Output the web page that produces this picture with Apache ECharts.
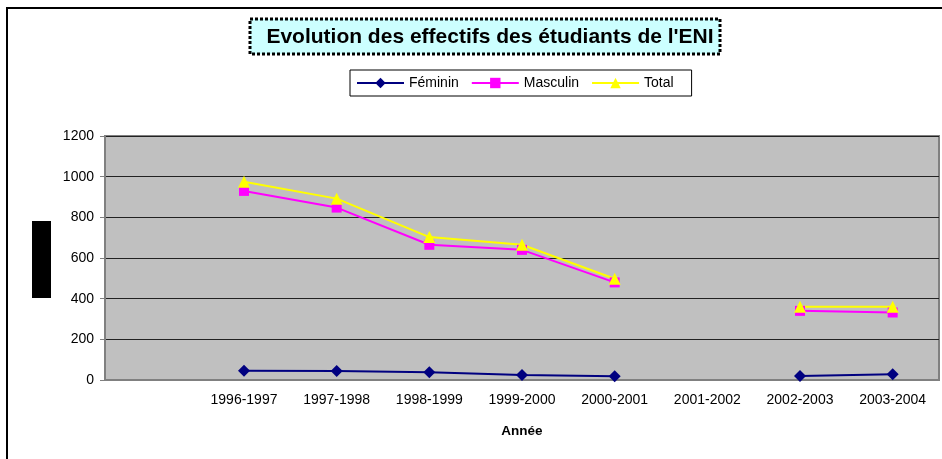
<!DOCTYPE html>
<html>
<head>
<meta charset="utf-8">
<script src="https://cdn.jsdelivr.net/npm/echarts@6/dist/echarts.min.js"></script>
<style>
  html, body { margin: 0; padding: 0; background: #fff; }
  #chart { width: 942px; height: 459px; }
</style>
</head>
<body>
<div id="chart"></div>
<script>
// first slot is an empty category, as in the original sheet
const years = ['', '1996-1997', '1997-1998', '1998-1999', '1999-2000', '2000-2001', '2001-2002', '2002-2003', '2003-2004']
const feminin = [null, 45, 44, 38, 25, 18, null, 20, 28]
const masculin = [null, 930, 848, 665, 640, 480, null, 340, 332]
const total = [null, 975, 892, 703, 665, 498, null, 360, 360]
const yTicks = { min: 0, max: 1200, step: 200 }

const font = 'Arial, "Liberation Sans", sans-serif'
const chart = echarts.init(document.getElementById('chart'))

function line(name, data, color, symbol, size) {
  return {
    name,
    type: 'line',
    data,
    symbol,
    symbolSize: size,
    connectNulls: false,
    lineStyle: { color, width: 2 },
    itemStyle: { color },
    emphasis: { disabled: true },
  }
}

chart.setOption({
  animation: false,
  backgroundColor: '#fff',
  title: {
    text: "Evolution des effectifs des étudiants de l'ENI",
    left: 485,
    textAlign: 'center',
    top: 22,
    z: 10,
    textStyle: { fontFamily: font, fontWeight: 'bold', fontSize: 21, color: '#000' },
  },
  graphic: [
    // outer chart frame
    { type: 'rect', shape: { x: 7, y: 8, width: 960, height: 480 }, style: { fill: 'none', stroke: '#000', lineWidth: 2 }, z: 0 },
    // title box
    { type: 'rect', shape: { x: 250, y: 19, width: 470, height: 35 }, style: { fill: '#ccffff', stroke: '#000', lineWidth: 3, lineDash: [3, 2] }, z: 1 },
    // black block left of the y axis
    { type: 'rect', shape: { x: 32, y: 221, width: 19, height: 77 }, style: { fill: '#000' }, z: 1 },
  ],
  legend: {
    left: 350,
    top: 70,
    padding: [6, 18, 6, 6],
    borderColor: '#000',
    borderWidth: 1,
    itemWidth: 47,
    itemHeight: 13,
    itemGap: 12,
    textStyle: { fontFamily: font, fontSize: 14, color: '#000' },
  },
  grid: { left: 105, right: 3, top: 136, bottom: 79, show: true, backgroundColor: '#c0c0c0', borderColor: '#808080', borderWidth: 2 },
  xAxis: {
    type: 'category',
    data: years,
    boundaryGap: true,
    name: 'Année',
    nameLocation: 'middle',
    nameGap: 44,
    nameTextStyle: { fontFamily: font, fontWeight: 'bold', fontSize: 13.5, color: '#000' },
    axisLine: { lineStyle: { color: '#808080', width: 2 } },
    axisTick: { interval: 0, length: 5, lineStyle: { color: '#808080' } },
    axisLabel: { interval: 0, margin: 13, fontFamily: font, fontSize: 14, color: '#000' },
    splitLine: { show: false },
  },
  yAxis: {
    type: 'value',
    min: yTicks.min,
    max: yTicks.max,
    interval: yTicks.step,
    axisLine: { show: true, lineStyle: { color: '#808080', width: 2 } },
    axisTick: { show: true, length: 5, lineStyle: { color: '#808080' } },
    axisLabel: { margin: 11, fontFamily: font, fontSize: 14, color: '#000', formatter: v => String(v) },
    splitLine: { lineStyle: { color: '#222', width: 1 } },
  },
  series: [
    line('Féminin', feminin, '#000080', 'diamond', 12),
    line('Masculin', masculin, '#ff00ff', 'rect', 10),
    line('Total', total, '#ffff00', 'triangle', 12),
  ],
})
</script>
</body>
</html>
